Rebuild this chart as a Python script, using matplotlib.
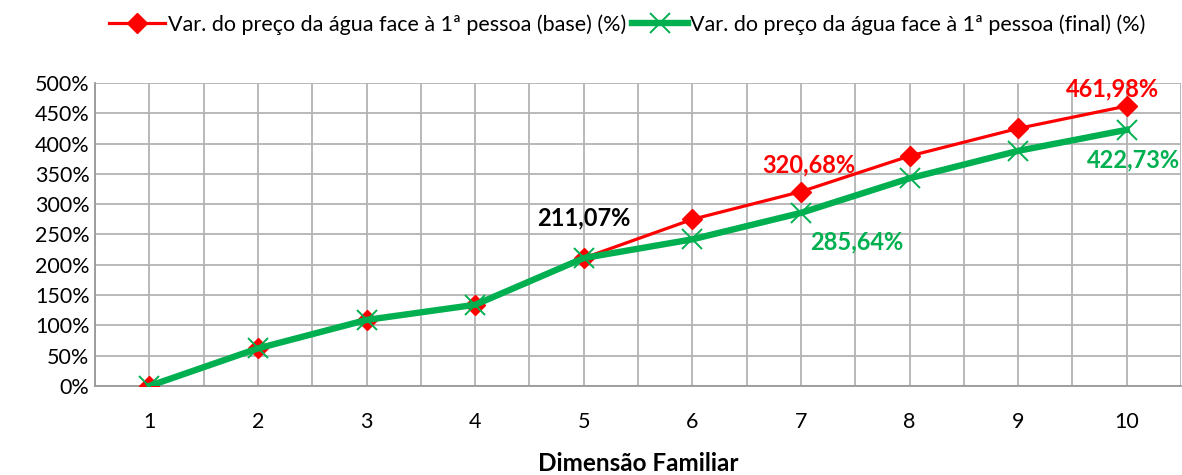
import numpy as np
import matplotlib
matplotlib.use('Agg')
import matplotlib.pyplot as plt
from matplotlib.ticker import FuncFormatter, MultipleLocator

plt.rcParams['font.family'] = ['Lato', 'DejaVu Sans']

# data
dimensao = [1, 2, 3, 4, 5, 6, 7, 8, 9, 10]
var_base = [0, 62, 109, 134, 211.07, 275, 320.68, 379.5, 425, 461.98]
var_final = [0, 62, 109, 134, 211.07, 242, 285.64, 342.7, 388, 422.73]
nome_base = 'Var. do preço da água face à 1ª pessoa (base) (%)'
nome_final = 'Var. do preço da água face à 1ª pessoa (final) (%)'

red = '#ff0000'
green = '#00b050'

fig = plt.figure(figsize=(11.82, 4.75), dpi=100)
ax = fig.add_axes([0.0804, 0.1874, 0.9188, 0.6379])

x = np.arange(len(dimensao))
ax.plot(x, var_base, color=red, lw=2.3, marker='D', ms=10, mfc=red, mec=red,
        label=nome_base, zorder=3)
ax.plot(x, var_final, color=green, lw=4.6, marker='x', ms=14, mew=1.4,
        mec=green, label=nome_final, zorder=4)

ax.set_xlim(-0.5, len(dimensao) - 0.5)
ax.set_ylim(0, 500)
ax.set_xticks(x)
ax.set_xticklabels([str(d) for d in dimensao])
ax.set_xticks(np.arange(-0.5, len(dimensao)), minor=True)
ax.yaxis.set_major_locator(MultipleLocator(50))
ax.yaxis.set_major_formatter(FuncFormatter(lambda v, p: '%d%%' % v))
ax.grid(True, which='both', color='#b3b3b3', lw=1.3)
ax.set_axisbelow(True)
ax.tick_params(which='both', length=0)
ax.tick_params(axis='x', pad=19, labelsize=15.5)
ax.tick_params(axis='y', pad=4, labelsize=15.5)
for s in ['top', 'right']:
    ax.spines[s].set_visible(False)
for s in ['left', 'bottom']:
    ax.spines[s].set_color('#999999')
    ax.spines[s].set_linewidth(1.3)

ax.set_xlabel('Dimensão Familiar', fontsize=17.5, fontweight='bold', labelpad=14)

def fmt(v):
    return ('%.2f%%' % v).replace('.', ',')

lab = dict(fontsize=17, fontweight='bold', ha='center', va='center')
ax.annotate(fmt(var_base[4]), (4, var_base[4]), xytext=(0, 29), textcoords='offset points', color='black', **lab)
ax.annotate(fmt(var_base[6]), (6, var_base[6]), xytext=(6, 19), textcoords='offset points', color=red, **lab)
ax.annotate(fmt(var_final[6]), (6, var_final[6]), xytext=(40, -21), textcoords='offset points', color=green, **lab)
ax.annotate(fmt(var_base[9]), (9, var_base[9]), xytext=(-10, 12), textcoords='offset points', color=red, **lab)
ax.annotate(fmt(var_final[9]), (9, var_final[9]), xytext=(5, -22), textcoords='offset points', color=green, **lab)

fig.legend(loc='center', bbox_to_anchor=(0.531, 0.949), ncol=2, frameon=False,
           fontsize=15.5, handlelength=2.6, handletextpad=0.1, columnspacing=0.3)

fig.savefig('out.png', dpi=100)
